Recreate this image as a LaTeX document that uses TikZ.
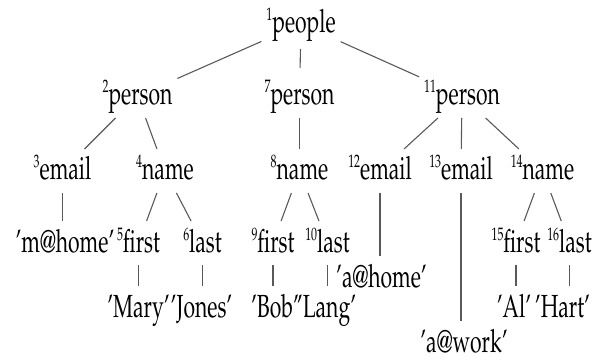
\documentclass[tikz,border=0pt]{standalone}
\usepackage[T1]{fontenc}
\usepackage{mathpazo}
\usepackage{graphicx}
\newcommand\lab[2]{\scalebox{0.66}[1]{\raisebox{12pt}{\fontsize{18}{18}\selectfont #1}#2}}
\newcommand\val[1]{\scalebox{0.66}[1]{#1}}
\begin{document}
\begin{tikzpicture}[x=1pt,y=-1pt,
  lbl/.style={inner sep=0pt, outer sep=5pt, text height=26pt, text depth=8pt, anchor=base,
              font=\fontsize{32}{34}\selectfont},
  edge/.style={draw=black!65, line width=1.1pt}]
\useasboundingbox (0,0) rectangle (601,363);
% row 1
\node[lbl] (p1) at (301,33) {\lab{1}{people}};
% row 2
\node[lbl] (p2) at (137.5,105) {\lab{2}{person}};
\node[lbl] (p7) at (299.5,105) {\lab{7}{person}};
\node[lbl] (p11) at (462,105) {\lab{11}{person}};
% row 3
\node[lbl] (e3) at (62.5,180) {\lab{3}{email}};
\node[lbl] (n4) at (165,180) {\lab{4}{name}};
\node[lbl] (n8) at (299.5,180) {\lab{8}{name}};
\node[lbl] (e12) at (380,180) {\lab{12}{email}};
\node[lbl] (e13) at (461,180) {\lab{13}{email}};
\node[lbl] (n14) at (542.5,180) {\lab{14}{name}};
% row 4
\node[lbl] (v3) at (65,252) {\val{'m@home'}};
\node[lbl] (f5) at (138.5,252) {\lab{5}{first}};
\node[lbl] (l6) at (202.5,252) {\lab{6}{last}};
\node[lbl] (f9) at (273,252) {\lab{9}{first}};
\node[lbl] (l10) at (327.5,252) {\lab{10}{last}};
\node[lbl] (f15) at (516,252) {\lab{15}{first}};
\node[lbl] (l16) at (569.5,252) {\lab{16}{last}};
% values
\node[lbl] (v5) at (138.5,317) {\val{'Mary'}};
\node[lbl] (v6) at (201.5,317) {\val{'Jones'}};
\node[lbl] (v9) at (275,317) {\val{'Bob'}};
\node[lbl] (v10) at (326.5,317) {\val{'Lang'}};
\node[lbl] (v12) at (381.5,287) {\val{'a@home'}};
\node[lbl] (v13) at (464,352) {\val{'a@work'}};
\node[lbl] (v15) at (514,317) {\val{'Al'}};
\node[lbl] (v16) at (562.5,317) {\val{'Hart'}};
% edges
\draw[edge] (p1) -- (p2);
\draw[edge, shorten <=3pt, shorten >=6pt] (p1) -- (p7);
\draw[edge] (p1) -- (p11);
\draw[edge] (p2) -- (e3);
\draw[edge] (p2) -- (n4);
\draw[edge] (p7) -- (n8);
\draw[edge] (p11) -- (e12);
\draw[edge] (p11) -- (e13);
\draw[edge] (p11) -- (n14);
\draw[edge] (e3) -- (e3 |- v3.north);
\draw[edge] (n4) -- (f5);
\draw[edge] (n4) -- (l6);
\draw[edge] (n8) -- (f9);
\draw[edge] (n8) -- (l10);
\draw[edge] (n14) -- (f15);
\draw[edge] (n14) -- (l16);
\draw[edge] (f5) -- (f5 |- v5.north);
\draw[edge] (l6) -- (l6 |- v6.north);
\draw[edge] (f9) -- (f9 |- v9.north);
\draw[edge] (l10) -- (l10 |- v10.north);
\draw[edge] (e12) -- (e12 |- v12.north);
\draw[edge] (e13) -- (e13 |- v13.north);
\draw[edge] (f15) -- (f15 |- v15.north);
\draw[edge] (l16) -- (l16 |- v16.north);
\end{tikzpicture}
\end{document}
